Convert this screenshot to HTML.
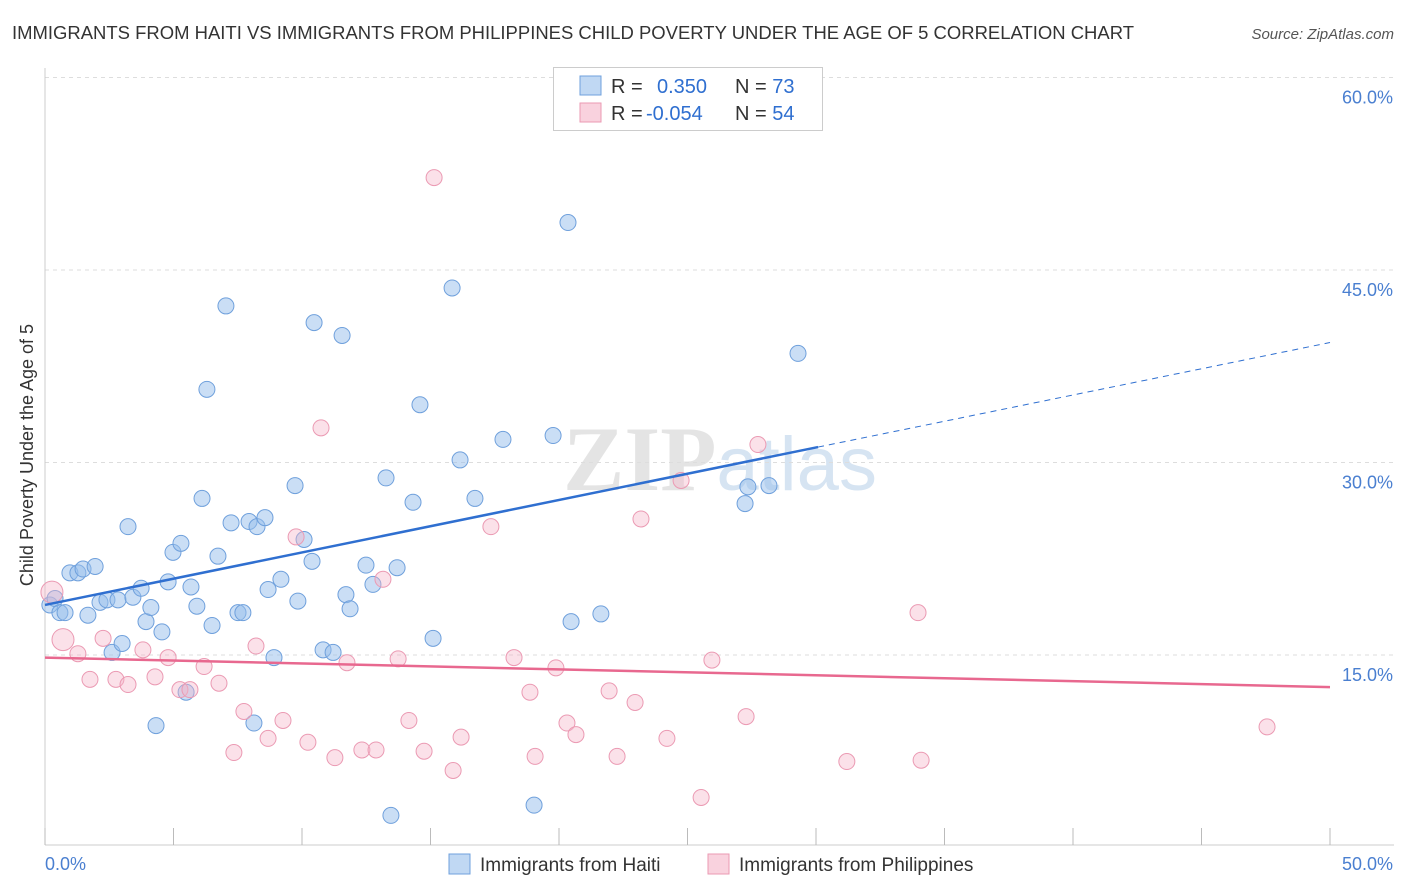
<!DOCTYPE html>
<html><head><meta charset="utf-8"><style>
body{margin:0;background:#fff;font-family:"Liberation Sans",sans-serif;}
#wrap{position:relative;width:1406px;height:892px;overflow:hidden;}
</style></head><body>
<div id="wrap">
<svg id="svg" width="1406" height="892" xmlns="http://www.w3.org/2000/svg">
<text x="12" y="39" font-size="18" fill="#333" textLength="1122" lengthAdjust="spacingAndGlyphs">IMMIGRANTS FROM HAITI VS IMMIGRANTS FROM PHILIPPINES CHILD POVERTY UNDER THE AGE OF 5 CORRELATION CHART</text>
<text x="1394" y="39" font-size="15" fill="#555" font-style="italic" text-anchor="end">Source: ZipAtlas.com</text>
<text x="720" y="490" font-size="92" fill="#e4e4e4" text-anchor="middle" font-family="Liberation Serif" font-weight="bold">ZIP<tspan fill="#d6e4f2" font-family="Liberation Sans" font-weight="normal" font-size="76">atlas</tspan></text>
<text transform="translate(33,455) rotate(-90)" font-size="18" fill="#333" text-anchor="middle">Child Poverty Under the Age of 5</text>
<g id="grid"></g><g id="marks"></g>
</svg>
</div>
<script>
const yTicks=[15,30,45,60];
const xTickLabels=["0.0%","50.0%"];
const haitiX=[0.19,0.39,0.58,0.78,0.97,1.28,1.48,1.67,1.95,2.14,2.41,2.61,2.84,3.0,3.23,3.42,3.74,3.93,4.12,4.32,4.55,4.79,4.98,5.29,5.49,5.68,5.91,6.11,6.3,6.5,6.73,7.04,7.24,7.51,7.7,7.94,8.13,8.25,8.56,8.68,8.91,9.18,9.73,9.84,10.08,10.39,10.47,10.82,11.21,11.56,11.71,11.87,12.49,12.76,13.27,13.46,13.7,14.32,14.59,15.1,15.84,16.15,16.73,17.82,19.03,19.77,20.35,20.47,21.63,27.24,27.35,28.17,29.3];
const haitiY=[18.9,19.4,18.3,18.3,21.4,21.4,21.7,18.1,21.9,19.1,19.3,15.2,19.3,15.9,25.0,19.5,20.2,17.6,18.7,9.5,16.8,20.7,23.0,23.7,12.1,20.3,18.8,27.2,35.7,17.3,22.7,42.2,25.3,18.3,18.3,25.4,9.7,25.0,25.7,20.1,14.8,20.9,28.2,19.2,24.0,22.3,40.9,15.4,15.2,39.9,19.7,18.6,22.0,20.5,28.8,2.5,21.8,26.9,34.5,16.3,43.6,30.2,27.2,31.8,3.3,32.1,48.7,17.6,18.2,26.8,28.1,28.2,38.5];
const philX=[0.27,0.7,1.28,1.75,2.26,2.76,3.23,3.81,4.28,4.79,5.25,5.64,6.19,6.77,7.35,7.74,8.21,8.68,9.26,9.77,10.23,10.74,11.28,11.75,12.33,12.88,13.15,13.74,14.16,14.75,15.14,15.88,16.19,17.35,18.25,18.87,19.07,19.88,20.31,20.66,21.95,22.26,22.96,23.19,24.2,24.75,25.53,25.95,27.28,27.74,31.2,33.97,34.09,47.55];
const philY=[19.9,16.2,15.1,13.1,16.3,13.1,12.7,15.4,13.3,14.8,12.3,12.3,14.1,12.8,7.4,10.6,15.7,8.5,9.9,24.2,8.2,32.7,7.0,14.4,7.6,7.6,20.9,14.7,9.9,7.5,52.2,6.0,8.6,25.0,14.8,12.1,7.1,14.0,9.7,8.8,12.2,7.1,11.3,25.6,8.5,28.6,3.9,14.6,10.2,31.4,6.7,18.3,6.8,9.4];
const haitiTrend=[18.9,0.409];
const philTrend=[14.8,-0.046];
const legendR=["0.350","-0.054"];
const legendN=["73","54"];
const NS="http://www.w3.org/2000/svg";
const X0=45,X1=1330,Y0=847.5,YPER=192.5/15;
function sx(v){return X0+(X1-X0)*v/50;}
function sy(v){return Y0-v*YPER;}
function mk(t,a,p){const e=document.createElementNS(NS,t);for(const k in a)e.setAttribute(k,a[k]);(p||document.getElementById('marks')).appendChild(e);return e;}
const grid=document.getElementById('grid');
yTicks.forEach(t=>{
 const l=mk('line',{x1:X0,x2:1394,y1:sy(t),y2:sy(t),stroke:'#ddd','stroke-dasharray':'4,4'},grid);
 
 
 const tx=mk('text',{x:1393,y:sy(t)+26,'font-size':18,fill:'#4a7fd0','text-anchor':'end'},grid);
 tx.textContent=t.toFixed(1)+'%';
 
 
});
const ax=mk('line',{x1:X0,x2:X0,y1:68,y2:845,stroke:'#ccc'},grid);


const bx=mk('line',{x1:X0,x2:1394,y1:845,y2:845,stroke:'#ccc'},grid);


for(let i=0;i<=10;i++){
 const t=mk('line',{x1:sx(i*5),x2:sx(i*5),y1:828,y2:845,stroke:'#bbb'},grid);
 
 
}
[[0,'start',45],[1,'end',1393]].forEach(([i,a,x])=>{
 const t=mk('text',{x:x,y:870,'font-size':18,fill:'#4a7fd0','text-anchor':a},grid);
 t.textContent=xTickLabels[i];
 
 
});
haitiX.forEach((x,i)=>{
 const c=mk('circle',{cx:sx(x),cy:sy(haitiY[i]),r:8,fill:'rgba(150,190,235,0.5)',stroke:'#6fa0dc','stroke-width':1});
 
 
});
philX.forEach((x,i)=>{
 const r=i<2?11:8;
 const c=mk('circle',{cx:sx(x),cy:sy(philY[i]),r:r,fill:'rgba(245,180,200,0.4)',stroke:'#eb9ab3','stroke-width':1});
 
 
});
const hx=30.08;
let l1=mk('line',{x1:sx(0),y1:sy(haitiTrend[0]),x2:sx(hx),y2:sy(haitiTrend[0]+haitiTrend[1]*hx),stroke:'#2f6fd0','stroke-width':2.5});


let l2=mk('line',{x1:sx(hx),y1:sy(haitiTrend[0]+haitiTrend[1]*hx),x2:sx(50),y2:sy(haitiTrend[0]+haitiTrend[1]*50),stroke:'#2f6fd0','stroke-width':1,'stroke-dasharray':'6,5'});


let l3=mk('line',{x1:sx(0),y1:sy(philTrend[0]),x2:sx(50),y2:sy(philTrend[0]+philTrend[1]*50),stroke:'#e8688f','stroke-width':2.5});


const lg=mk('g',{});


mk('rect',{x:553.5,y:67.5,width:269,height:63,fill:'#fff',stroke:'#ccc'},lg);
[['rgba(150,190,235,0.6)','#6fa0dc'],['rgba(245,180,200,0.6)','#eb9ab3']].forEach((c,i)=>{
 const y=76+i*27;
 mk('rect',{x:580,y:y,width:21,height:19,fill:c[0],stroke:c[1]},lg);
 const t=mk('text',{x:611,y:y+17,'font-size':20,fill:'#333'},lg);
 t.innerHTML='R = <tspan fill="#2f6fd0" x="'+(i?646:657)+'">'+legendR[i]+'</tspan><tspan fill="#333" x="735">N = </tspan><tspan fill="#2f6fd0">'+legendN[i]+'</tspan>';
 
 
});
[['Immigrants from Haiti',449,'rgba(150,190,235,0.6)','#6fa0dc'],['Immigrants from Philippines',708,'rgba(245,180,200,0.6)','#eb9ab3']].forEach(d=>{
 const g=mk('g',{});
 
 
 mk('rect',{x:d[1],y:854,width:21,height:20,fill:d[2],stroke:d[3]},g);
 const t=mk('text',{x:d[1]+31,y:871,'font-size':19,fill:'#333'},g);
 t.textContent=d[0];
});
</script>
</body></html>
